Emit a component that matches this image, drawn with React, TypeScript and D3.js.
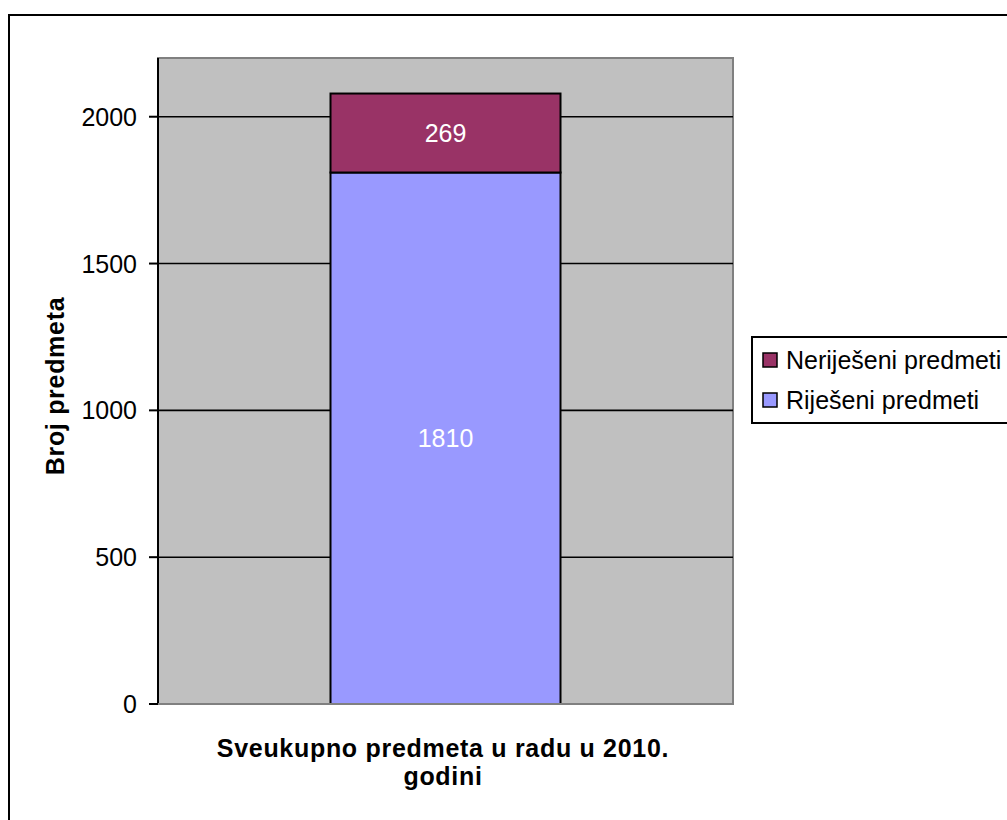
import React from "react";
import * as d3 from "d3";

const categories = ["Sveukupno predmeta u radu u 2010. godini"];
const seriesNames = ["Riješeni predmeti", "Neriješeni predmeti"];
const resolved = [1810];
const unresolved = [269];
const yTicks = [0, 500, 1000, 1500, 2000];
const xTitleLines = ["Sveukupno predmeta u radu u 2010.", "godini"];
const yTitle = "Broj predmeta";

const colors = ["#9999FF", "#993366"];

export default function App() {
  const W = 1007, H = 820;
  const plot = { left: 158, top: 58, right: 733, bottom: 704 };
  const font = "Arial, 'Liberation Sans', sans-serif";

  const y = d3.scaleLinear().domain([0, 2200]).range([plot.bottom, plot.top]);
  const x = d3
    .scaleBand<string>()
    .domain(categories)
    .range([plot.left, plot.right])
    .paddingInner(0)
    .paddingOuter(0.75);

  const rows = categories.map((c, i) => ({ cat: c, v0: resolved[i], v1: unresolved[i] }));
  const stack = d3.stack<any>().keys(["v0", "v1"])(rows as any);

  const legendItems = [
    { name: seriesNames[1], color: colors[1] },
    { name: seriesNames[0], color: colors[0] },
  ];

  return (
    <svg
      width={W}
      height={H}
      style={{ position: "absolute", left: 0, top: 0, background: "#fff" }}
      fontFamily={font}
    >
      <rect x={0} y={0} width={W} height={H} fill="#fff" />
      {/* outer chart border */}
      <rect x={9} y={15} width={1020} height={830} fill="none" stroke="#000" strokeWidth={2} />

      {/* plot area */}
      <rect
        x={plot.left}
        y={plot.top}
        width={plot.right - plot.left}
        height={plot.bottom - plot.top}
        fill="#C0C0C0"
        stroke="#808080"
        strokeWidth={2}
      />

      {/* gridlines */}
      {yTicks.filter((t) => t > 0).map((t) => (
        <line key={t} x1={plot.left} x2={plot.right} y1={y(t)} y2={y(t)} stroke="#000" strokeWidth={1.6} />
      ))}

      {/* bars */}
      {stack.map((s, si) =>
        s.map((d: any, i: number) => (
          <rect
            key={`${si}-${i}`}
            x={x(categories[i])}
            y={y(d[1])}
            width={x.bandwidth()}
            height={y(d[0]) - y(d[1])}
            fill={colors[si]}
            stroke="#000"
            strokeWidth={2}
          />
        ))
      )}

      {/* bar labels */}
      {stack.map((s, si) =>
        s.map((d: any, i: number) => (
          <text
            key={`l-${si}-${i}`}
            x={(x(categories[i]) as number) + x.bandwidth() / 2}
            y={(y(d[0]) + y(d[1])) / 2}
            textAnchor="middle"
            dominantBaseline="central"
            fill="#fff"
            fontSize={25}
          >
            {si === 0 ? resolved[i] : unresolved[i]}
          </text>
        ))
      )}

      {/* y axis */}
      <line x1={plot.left} x2={plot.left} y1={plot.top} y2={plot.bottom} stroke="#000" strokeWidth={2} />
      <line x1={plot.left - 1} x2={plot.right} y1={plot.bottom} y2={plot.bottom} stroke="#808080" strokeWidth={2} />
      {yTicks.map((t) => (
        <g key={t}>
          <line x1={plot.left - 9} x2={plot.left} y1={y(t)} y2={y(t)} stroke="#000" strokeWidth={2} />
          <text x={137} y={y(t)} textAnchor="end" dominantBaseline="central" fontSize={25} fill="#000">
            {t}
          </text>
        </g>
      ))}

      {/* y title */}
      <text
        transform={`translate(55,386) rotate(-90)`}
        textAnchor="middle"
        dominantBaseline="central"
        fontSize={25}
        fontWeight="bold"
        letterSpacing={0.7}
      >
        {yTitle}
      </text>

      {/* x title */}
      {xTitleLines.map((l, i) => (
        <text
          key={i}
          x={443}
          y={757 + i * 28}
          textAnchor="middle"
          fontSize={25}
          fontWeight="bold"
          letterSpacing={0.7}
        >
          {l}
        </text>
      ))}

      {/* legend */}
      <rect x={752} y={337} width={300} height={86} fill="#fff" stroke="#000" strokeWidth={2} />
      {legendItems.map((it, i) => (
        <g key={it.name}>
          <rect x={763} y={353 + i * 40} width={14} height={14} fill={it.color} stroke="#000" strokeWidth={1.5} />
          <text x={786} y={360 + i * 40} dominantBaseline="central" fontSize={25} fill="#000">
            {it.name}
          </text>
        </g>
      ))}
    </svg>
  );
}
